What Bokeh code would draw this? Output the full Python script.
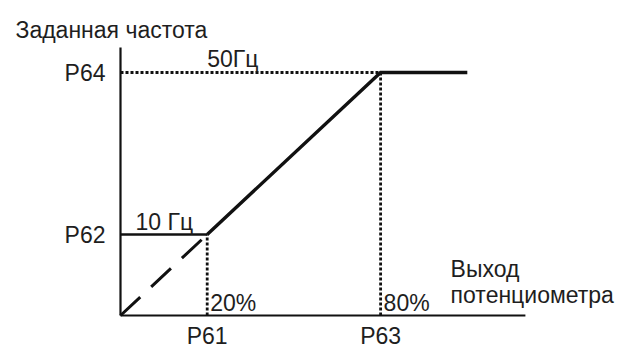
from bokeh.plotting import figure
from bokeh.models import Range1d
from bokeh.core.properties import value
from bokeh.embed import file_html
from bokeh.resources import INLINE

# ---- data (schematic units) ----
x_tick_labels = ["P61", "P63"]
x_tick_pos = [1, 3]
y_tick_labels = ["P62", "P64"]
y_tick_pos = [1, 3]
x_pct_labels = ["20%", "80%"]
freq_labels = ["10 Гц", "50Гц"]
curve_x = [1, 3, 4]
curve_y = [1, 3, 3]
low_x = [0, 1]
low_y = [1, 1]
dash_x = [0, 1]
dash_y = [0, 1]
x_axis_end = 4.67
y_axis_end = 3.31
y_title = "Заданная частота"
x_title = ["Выход", "потенциометра"]

FONT = value("Liberation Sans")
FS = "23px"
INK = "#111111"
TXT = "#1e1e1e"

p = figure(width=626, height=353, output_backend="svg", toolbar_location=None,
           x_range=Range1d(-1.384, 5.836), y_range=Range1d(-0.469, 3.889),
           x_axis_type=None, y_axis_type=None, min_border=0,
           outline_line_color=None, background_fill_color="white")
p.xgrid.visible = False
p.ygrid.visible = False

# axes
p.line([0, 0], [0, y_axis_end], line_color=INK, line_width=2.2)
p.line([0, x_axis_end], [0, 0], line_color=INK, line_width=2.2)

# dotted guides
p.line([0, x_tick_pos[1]], [y_tick_pos[1], y_tick_pos[1]], line_color=INK, line_width=2.8, line_dash="3 2")
p.line([x_tick_pos[1], x_tick_pos[1]], [0, y_tick_pos[1]], line_color=INK, line_width=2.8, line_dash="3 2")
p.line([x_tick_pos[0], x_tick_pos[0]], [0, y_tick_pos[0]], line_color=INK, line_width=2.8, line_dash="3 2")

# low frequency flat line
p.line(low_x, low_y, line_color=INK, line_width=2.6)
# dashed extrapolation
p.line(dash_x, dash_y, line_color=INK, line_width=3, line_dash="27 15")
# main curve
p.line(curve_x, curve_y, line_color=INK, line_width=3.4, line_join="miter")

common = dict(text_font=FONT, text_font_size=FS, text_color=TXT, text_baseline="middle")

# y tick labels
p.text(x=[0, 0], y=y_tick_pos, text=y_tick_labels, x_offset=-15, y_offset=0,
       text_align="right", **common)
# x tick labels
p.text(x=x_tick_pos, y=[0, 0], text=x_tick_labels, x_offset=0, y_offset=20,
       text_align="center", **common)
# percent labels
p.text(x=x_tick_pos, y=[0, 0], text=x_pct_labels, x_offset=3, y_offset=-12.5,
       text_align="left", **common)
# frequency labels
p.text(x=[0, x_tick_pos[0]], y=y_tick_pos, text=freq_labels, x_offset=[15, 0], y_offset=[-12.5, -13.5],
       text_align="left", **common)
# axis titles
p.text(x=[0], y=[y_axis_end], text=[y_title], x_offset=-105, y_offset=-17,
       text_align="left", **common)
p.text(x=[x_tick_pos[1], x_tick_pos[1]], y=[0, 0], text=x_title, x_offset=70, y_offset=[-47, -21],
       text_align="left", **common)

open("out.html", "w").write(file_html(p, INLINE))
